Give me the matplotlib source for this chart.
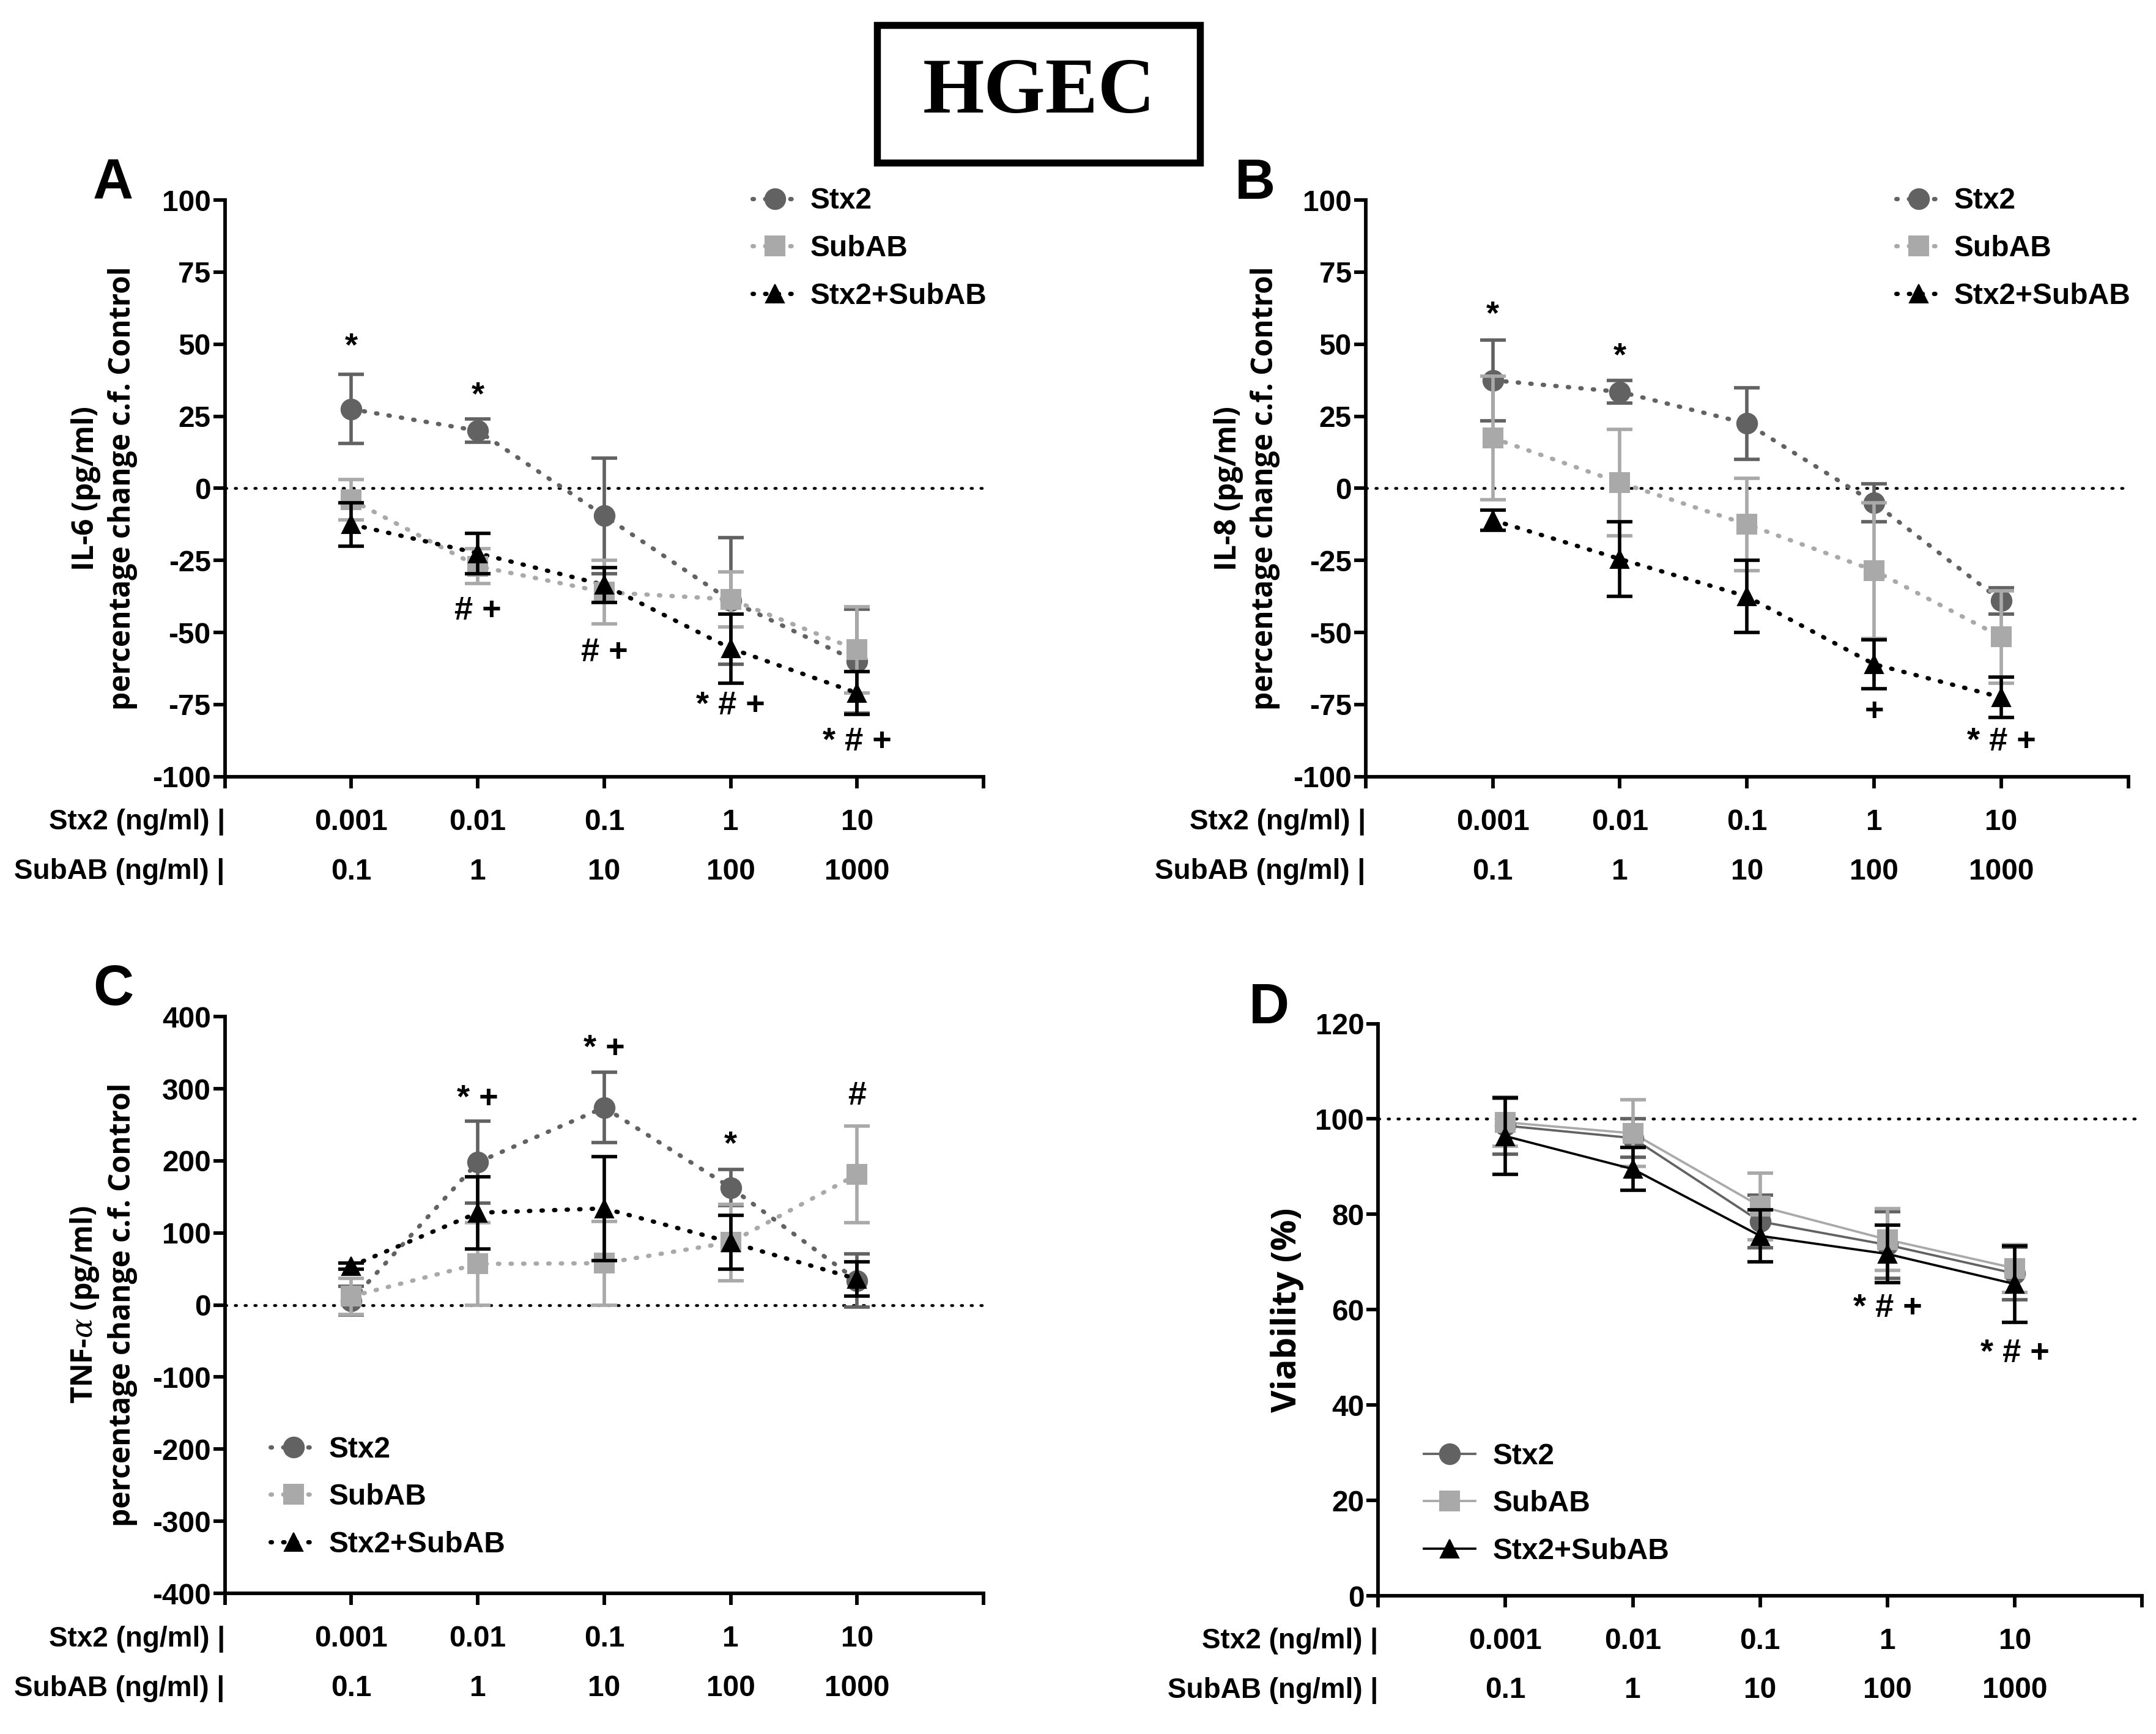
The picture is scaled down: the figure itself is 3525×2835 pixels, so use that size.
import matplotlib
matplotlib.use("Agg")
import matplotlib.pyplot as plt
from matplotlib.lines import Line2D
from matplotlib.patches import Rectangle
from matplotlib import font_manager as fm
import numpy as np

# ---------------- data ----------------
stx2_labels = ['0.001', '0.01', '0.1', '1', '10']
subab_labels = ['0.1', '1', '10', '100', '1000']
series_names = ['Stx2', 'SubAB', 'Stx2+SubAB']

A_stx2 = [27.5, 20, -9.5, -39, -60]
A_stx2_err = [12, 4, 20, 22, 18]
A_subab = [-4, -27, -36, -38.5, -56]
A_subab_err = [7, 6, 11, 9.5, 15]
A_comb = [-12.5, -22.5, -33.5, -55.5, -71]
A_comb_err = [7.5, 7, 6, 12, 7.5]

B_stx2 = [37.5, 33.5, 22.5, -5, -39]
B_stx2_err = [14, 4, 12.5, 6.5, 4.5]
B_subab = [17.5, 2, -12.5, -28.5, -51.5]
B_subab_err = [21.5, 18.5, 16, 23.5, 16]
B_comb = [-11, -24.5, -37.5, -61, -72.5]
B_comb_err = [3.5, 13, 12.5, 8.5, 7]

C_stx2 = [6, 198, 274, 163, 34]
C_stx2_err = [20, 57, 49, 25, 37]
C_subab = [12, 57, 58, 87, 181]
C_subab_err = [25, 57, 58, 53, 67]
C_comb = [54, 128, 134, 87, 36]
C_comb_err = [4, 50, 72, 37, 24]

D_stx2 = [98.6, 96, 78.5, 73.6, 67.6]
D_stx2_err = [6, 4, 5.5, 7, 5.5]
D_subab = [99.3, 97, 81.7, 74.7, 68.7]
D_subab_err = [5, 7, 7, 6.5, 5]
D_comb = [96.4, 89.5, 75.5, 71.7, 65.4]
D_comb_err = [8, 4.5, 5.5, 6, 8]

A_annot = [(1, 49, '*'), (2, 32, '*'), (2, -42.5, '# +'), (3, -57, '# +'),
           (4, -75.5, '* # +'), (5, -88, '* # +')]
B_annot = [(1, 60, '*'), (2, 45.5, '*'), (4, -77.5, '+'), (5, -88, '* # +')]
C_annot = [(2, 286, '* +'), (3, 355, '* +'), (4, 221, '*'), (5, 290, '#')]
D_annot = [(4, 60.3, '* # +'), (5, 50.8, '* # +')]

# ---------------- style ----------------
names = {f.name for f in fm.fontManager.ttflist}
if 'Liberation Sans Narrow' in names:
    TICKFONT = 'Liberation Sans Narrow'
    TFS = 25
else:
    TICKFONT = 'Liberation Sans'
    TFS = 23
LABFONT = 'Open Sans' if 'Open Sans' in names else 'DejaVu Sans'

plt.rcParams['font.family'] = [TICKFONT, 'DejaVu Sans']
plt.rcParams['mathtext.fontset'] = 'dejavuserif'
plt.rcParams['axes.unicode_minus'] = False

C_STX2 = '#626262'
C_SUB = '#a9a9a9'
C_COMB = '#000000'
colors = [C_STX2, C_SUB, C_COMB]
markers = ['o', 's', '^']
msizes = [16, 15, 14]

SPW = 2.8
DOT = (0, (0.3, 2.6))

fig = plt.figure(figsize=(23.5, 18.9), dpi=150)

axes_rects = {
    'A': [0.1043, 0.5521, 0.3519, 0.3325],
    'B': [0.6334, 0.5521, 0.3538, 0.3325],
    'C': [0.1043, 0.0811, 0.3519, 0.3326],
    'D': [0.6392, 0.0796, 0.3544, 0.3301],
}

def draw_panel(key, ylim, yticks, ylabel, data, annots, solid, refy,
               leg_anchor, ylab_x, ylab_fs, hl, htp):
    ax = fig.add_axes(axes_rects[key])
    x = np.arange(1, 6)
    # reference line
    ax.plot([0, 6], [refy, refy], color='black', lw=2.2,
            linestyle=(0, (0.5, 3.0)), dash_capstyle='round', zorder=1,
            clip_on=False)
    order = [1, 0, 2]
    for i in order:
        y, e = data[i]
        if solid:
            ax.plot(x, y, color=colors[i], lw=1.8, zorder=2 + i)
        else:
            ax.plot(x, y, color=colors[i], lw=3.4, linestyle=DOT,
                    dash_capstyle='round', zorder=2 + i)
        ax.errorbar(x, y, yerr=e, fmt=markers[i], color=colors[i],
                    ms=msizes[i], capsize=10, elinewidth=2.7, capthick=2.7,
                    zorder=3 + i)
    ax.set_xlim(0, 6)
    ax.set_ylim(*ylim)
    ax.set_yticks(yticks)
    ax.set_xticks(range(0, 7))
    ax.set_xticklabels([])
    for s in ['top', 'right']:
        ax.spines[s].set_visible(False)
    for s in ['left', 'bottom']:
        ax.spines[s].set_linewidth(SPW)
    ax.tick_params(axis='both', direction='out', length=9, width=SPW,
                   labelsize=TFS)
    for lab in ax.get_yticklabels():
        lab.set_fontweight('bold')
    ax.tick_params(axis='y', pad=2)
    # category labels
    trans = ax.get_xaxis_transform()
    for xi, (l1, l2) in enumerate(zip(stx2_labels, subab_labels), start=1):
        ax.text(xi, -0.079, l1, transform=trans, ha='center', va='center',
                fontsize=TFS, fontweight='bold')
        ax.text(xi, -0.165, l2, transform=trans, ha='center', va='center',
                fontsize=TFS, fontweight='bold')
    ax.text(0.0, -0.079, 'Stx2 (ng/ml) |', transform=ax.transAxes,
            ha='right', va='center', fontsize=TFS - 1, fontweight='bold')
    ax.text(0.0, -0.165, 'SubAB (ng/ml) |', transform=ax.transAxes,
            ha='right', va='center', fontsize=TFS - 1, fontweight='bold')
    # annotations
    for xi, yv, t in annots:
        ax.text(xi, yv, t, ha='center', va='center', fontsize=TFS + 3,
                fontweight='bold')
    # y label
    ax.set_ylabel(ylabel, fontsize=ylab_fs, fontweight='bold', family=LABFONT,
                  linespacing=1.3)
    ax.yaxis.set_label_coords(ylab_x, 0.5)
    # legend
    handles = []
    for i in range(3):
        if solid:
            h = Line2D([], [], color=colors[i], lw=1.8, marker=markers[i],
                       ms=msizes[i])
        else:
            h = Line2D([], [], color=colors[i], lw=3.4, linestyle=DOT,
                       dash_capstyle='round', marker=markers[i], ms=msizes[i])
        handles.append(h)
    ax.legend(handles, series_names, loc='upper left',
              bbox_to_anchor=leg_anchor, frameon=False,
              handlelength=hl, handletextpad=htp, labelspacing=0.68,
              borderpad=0, borderaxespad=0, numpoints=1,
              prop={'family': TICKFONT, 'weight': 'bold', 'size': TFS})
    return ax

draw_panel('A', (-100, 100), [-100, -75, -50, -25, 0, 25, 50, 75, 100],
           'IL-6 (pg/ml)\npercentage change c.f. Control',
           [(A_stx2, A_stx2_err), (A_subab, A_subab_err), (A_comb, A_comb_err)],
           A_annot, False, 0, (0.695, 1.022), -0.115, 23, 1.57, 0.42)
draw_panel('B', (-100, 100), [-100, -75, -50, -25, 0, 25, 50, 75, 100],
           'IL-8 (pg/ml)\npercentage change c.f. Control',
           [(B_stx2, B_stx2_err), (B_subab, B_subab_err), (B_comb, B_comb_err)],
           B_annot, False, 0, (0.695, 1.022), -0.112, 23, 1.57, 0.42)
draw_panel('C', (-400, 400), [-400, -300, -200, -100, 0, 100, 200, 300, 400],
           'TNF-$\\alpha$ (pg/ml)\npercentage change c.f. Control',
           [(C_stx2, C_stx2_err), (C_subab, C_subab_err), (C_comb, C_comb_err)],
           C_annot, False, 0, (0.06, 0.273), -0.115, 23, 1.57, 0.42)
draw_panel('D', (0, 120), [0, 20, 40, 60, 80, 100, 120],
           'Viability (%)',
           [(D_stx2, D_stx2_err), (D_subab, D_subab_err), (D_comb, D_comb_err)],
           D_annot, True, 100, (0.06, 0.268), -0.097, 27, 1.75, 0.6)

# panel letters
for t, (px, py) in {'A': (0.0525, 0.894), 'B': (0.582, 0.894),
                    'C': (0.0525, 0.4288), 'D': (0.5886, 0.4185)}.items():
    fig.text(px, py, t, ha='center', va='center', fontsize=44,
             fontweight='bold', family='Liberation Sans')

# title box
fig.patches.append(Rectangle((1434 / 3525, 1 - 266 / 2835),
                             (1962 - 1434) / 3525, (266 - 41) / 2835,
                             transform=fig.transFigure, fill=False,
                             edgecolor='black', lw=5.5))
fig.text(0.4818, 0.9459, 'HGEC', ha='center', va='center', fontsize=62,
         fontweight='bold', family=['Liberation Serif', 'DejaVu Serif'])

fig.savefig('out.png', dpi=150, facecolor='white')
